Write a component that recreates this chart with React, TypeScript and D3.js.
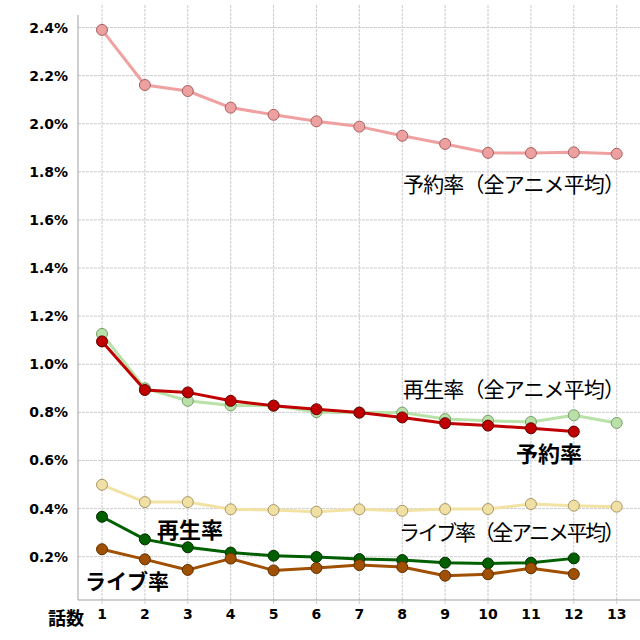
import React from "react";
import * as d3 from "d3";

const episodes = [1, 2, 3, 4, 5, 6, 7, 8, 9, 10, 11, 12, 13];
const yTicks = [0.2, 0.4, 0.6, 0.8, 1.0, 1.2, 1.4, 1.6, 1.8, 2.0, 2.2, 2.4];

const reserveAvg = [2.39, 2.161, 2.136, 2.067, 2.037, 2.01, 1.988, 1.95, 1.916, 1.879, 1.878, 1.881, 1.875];
const playAvg = [1.126, 0.9, 0.848, 0.829, 0.828, 0.801, 0.799, 0.799, 0.772, 0.765, 0.76, 0.788, 0.756];
const liveAvg = [0.499, 0.427, 0.427, 0.397, 0.394, 0.387, 0.397, 0.391, 0.398, 0.398, 0.419, 0.412, 0.408];
const reserve = [1.095, 0.893, 0.883, 0.848, 0.828, 0.813, 0.799, 0.779, 0.755, 0.745, 0.734, 0.72];
const play = [0.366, 0.272, 0.239, 0.217, 0.204, 0.199, 0.19, 0.186, 0.175, 0.172, 0.175, 0.193];
const live = [0.231, 0.189, 0.145, 0.192, 0.143, 0.153, 0.165, 0.157, 0.121, 0.127, 0.152, 0.128];

const series = [
  { name: "reserveAvg", values: reserveAvg, line: "#f0a0a0", fill: "#eda0a0", stroke: "#a86060" },
  { name: "playAvg", values: playAvg, line: "#b8e2a8", fill: "#b8e0a8", stroke: "#78a068" },
  { name: "liveAvg", values: liveAvg, line: "#f2e2a4", fill: "#f0e0a4", stroke: "#a89868" },
  { name: "reserve", values: reserve, line: "#c00000", fill: "#c00000", stroke: "#600000" },
  { name: "play", values: play, line: "#006000", fill: "#006000", stroke: "#003000" },
  { name: "live", values: live, line: "#a05000", fill: "#a05000", stroke: "#603000" },
];

const left = 78;
const right = 640;
const top = 5;
const bottom = 600;

export default function App() {
  const x = d3.scaleLinear().domain([1, 13]).range([102, 616.7]);
  const y = d3.scaleLinear().domain([0, 2.4]).range([604.8, 27.5]);
  const tickFont = "'DejaVu Sans', Verdana, sans-serif";
  const jp = "'Noto Sans CJK JP', sans-serif";

  return (
    <svg width={640} height={640} style={{ position: "absolute", left: 0, top: 0 }}>
      <rect x={0} y={0} width={640} height={640} fill="#ffffff" />
      {/* grid */}
      {yTicks.map((t) => (
        <line key={"h" + t} x1={left} x2={right} y1={y(t)} y2={y(t)} stroke="#cccccc" strokeWidth={1} strokeDasharray="3,1" />
      ))}
      {episodes.map((e) => (
        <line key={"v" + e} x1={x(e)} x2={x(e)} y1={top} y2={bottom + 4} stroke="#cccccc" strokeWidth={1} strokeDasharray="3,1" />
      ))}
      <line x1={left} x2={left} y1={top + 10} y2={bottom} stroke="#a0a0a0" strokeWidth={1} />
      <line x1={left} x2={right} y1={bottom} y2={bottom} stroke="#a0a0a0" strokeWidth={1} />
      {/* y tick labels */}
      {yTicks.map((t) => (
        <text key={"yl" + t} x={68} y={y(t)} textAnchor="end" dominantBaseline="central" fontFamily={tickFont} fontWeight="bold" fontSize={14} fill="#000">
          {t.toFixed(1) + "%"}
        </text>
      ))}
      {episodes.map((e) => (
        <text key={"xl" + e} x={x(e)} y={614} textAnchor="middle" dominantBaseline="central" fontFamily={tickFont} fontWeight="bold" fontSize={14} fill="#000">
          {e}
        </text>
      ))}
      <text x={66} y={617} textAnchor="middle" dominantBaseline="central" fontFamily={jp} fontWeight="bold" fontSize={18} fill="#000">話数</text>
      {/* series */}
      {series.map((s) => {
        const pts: [number, number][] = s.values.map((v, i) => [x(episodes[i]), y(v)]);
        const path = d3.line()(pts) || "";
        return (
          <g key={s.name}>
            <path d={path} fill="none" stroke={s.line} strokeWidth={3} strokeLinejoin="round" />
            {pts.map((p, i) => (
              <circle key={i} cx={p[0]} cy={p[1]} r={5.5} fill={s.fill} stroke={s.stroke} strokeWidth={1} />
            ))}
          </g>
        );
      })}
      {/* labels */}
      <text x={403} y={183} textLength={222} lengthAdjust="spacing" dominantBaseline="central" fontFamily={jp} fontSize={21} fill="#000">予約率（全アニメ平均）</text>
      <text x={403} y={388} textLength={222} lengthAdjust="spacing" dominantBaseline="central" fontFamily={jp} fontSize={21} fill="#000">再生率（全アニメ平均）</text>
      <text x={399} y={531} textLength={226} lengthAdjust="spacing" dominantBaseline="central" fontFamily={jp} fontSize={21} fill="#000">ライブ率（全アニメ平均）</text>
      <text x={549} y={452} textAnchor="middle" dominantBaseline="central" fontFamily={jp} fontWeight="bold" fontSize={22} fill="#000">予約率</text>
      <text x={190} y={528} textAnchor="middle" dominantBaseline="central" fontFamily={jp} fontWeight="bold" fontSize={22} fill="#000">再生率</text>
      <text x={127} y={580} textAnchor="middle" dominantBaseline="central" fontFamily={jp} fontWeight="bold" fontSize={21} fill="#000">ライブ率</text>
    </svg>
  );
}
